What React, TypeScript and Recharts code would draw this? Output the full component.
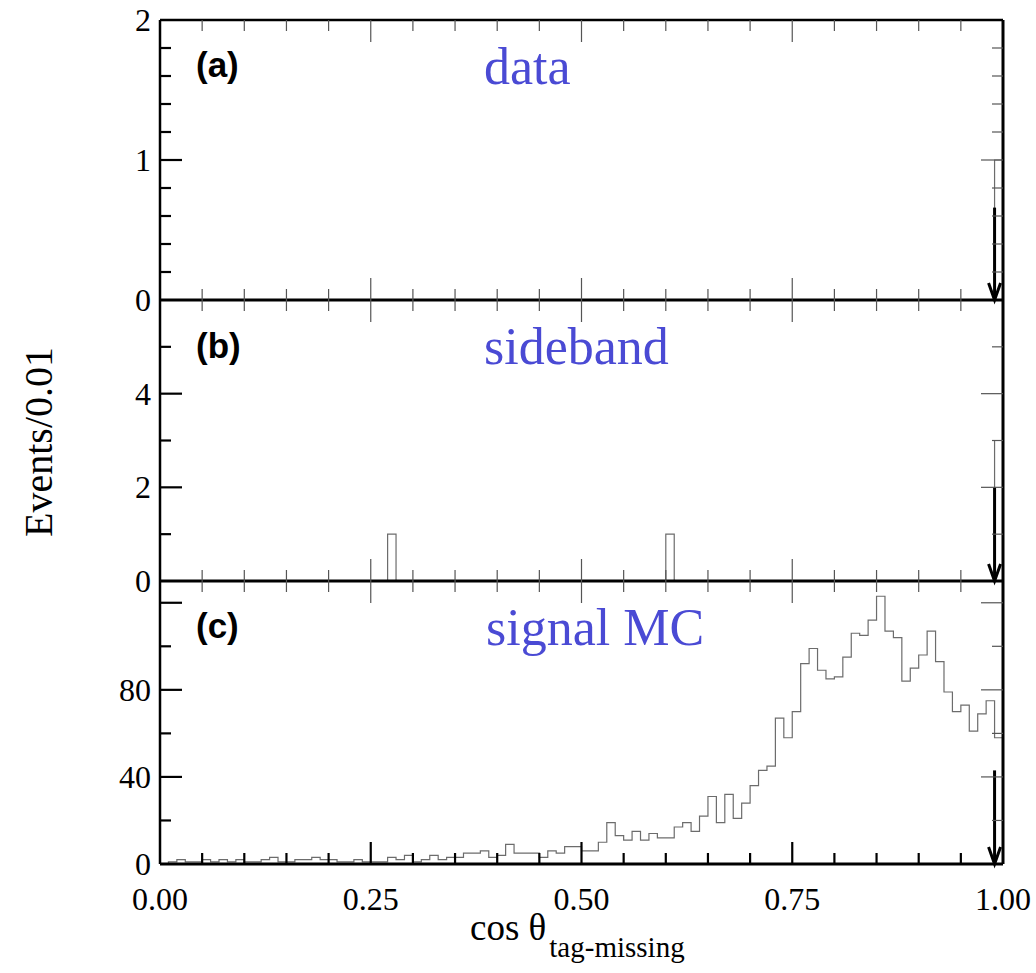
import React from 'react';
import { LineChart, Line, XAxis, YAxis, ReferenceLine } from 'recharts';

// ---------- data ----------
// histogram bins of width 0.01 on cos(theta) from 0.00 to 1.00 (100 bins)
const binEdges: number[] = Array.from({ length: 101 }, (_, i) => i / 100);

// (a) data
const dataCounts: number[] = [
  0, 0, 0, 0, 0, 0, 0, 0, 0, 0, 0, 0, 0, 0, 0, 0, 0, 0, 0, 0,
  0, 0, 0, 0, 0, 0, 0, 0, 0, 0, 0, 0, 0, 0, 0, 0, 0, 0, 0, 0,
  0, 0, 0, 0, 0, 0, 0, 0, 0, 0, 0, 0, 0, 0, 0, 0, 0, 0, 0, 0,
  0, 0, 0, 0, 0, 0, 0, 0, 0, 0, 0, 0, 0, 0, 0, 0, 0, 0, 0, 0,
  0, 0, 0, 0, 0, 0, 0, 0, 0, 0, 0, 0, 0, 0, 0, 0, 0, 0, 0, 1,
];

// (b) sideband
const sidebandCounts: number[] = [
  0, 0, 0, 0, 0, 0, 0, 0, 0, 0, 0, 0, 0, 0, 0, 0, 0, 0, 0, 0,
  0, 0, 0, 0, 0, 0, 0, 1, 0, 0, 0, 0, 0, 0, 0, 0, 0, 0, 0, 0,
  0, 0, 0, 0, 0, 0, 0, 0, 0, 0, 0, 0, 0, 0, 0, 0, 0, 0, 0, 0,
  1, 0, 0, 0, 0, 0, 0, 0, 0, 0, 0, 0, 0, 0, 0, 0, 0, 0, 0, 0,
  0, 0, 0, 0, 0, 0, 0, 0, 0, 0, 0, 0, 0, 0, 0, 0, 0, 0, 0, 3,
];

// (c) signal MC
const signalCounts: number[] = [
  0, 1, 2, 1, 1, 2, 1, 2, 1, 2, 1, 1, 2, 3, 1, 1, 2, 2, 3, 2,
  2, 1, 1, 2, 1, 1, 1, 3, 2, 4, 1, 2, 4, 2, 3, 3, 5, 5, 6, 3,
  4, 9, 5, 5, 5, 3, 6, 5, 8, 8, 6, 6, 10, 19, 13, 11, 15, 11, 14, 12,
  12, 17, 19, 15, 22, 31, 19, 32, 21, 28, 36, 43, 45, 67, 58, 70, 92, 99, 89, 85,
  86, 95, 106, 105, 112, 123, 107, 104, 84, 90, 96, 107, 93, 79, 70, 73, 61, 69, 75, 58,
];

// ---------- ticks ----------
const xTicks = [0, 0.05, 0.1, 0.15, 0.2, 0.25, 0.3, 0.35, 0.4, 0.45, 0.5, 0.55, 0.6, 0.65, 0.7, 0.75, 0.8, 0.85, 0.9, 0.95, 1];
const xMajorTicks = [0, 0.25, 0.5, 0.75, 1];
const xTickLabels = ['0.00', '0.25', '0.50', '0.75', '1.00'];

const yTicksA = [0, 0.2, 0.4, 0.6, 0.8, 1, 1.2, 1.4, 1.6, 1.8, 2];
const yMajorA = [0, 1, 2];
const yLabelsA = ['0', '1', '2'];

const yTicksB = [0, 1, 2, 3, 4, 5, 6];
const yMajorB = [0, 2, 4, 6];
const yLabeledB = [0, 2, 4];
const yLabelsB = ['0', '2', '4'];

const yTicksC = [0, 20, 40, 60, 80, 100, 120];
const yMajorC = [0, 40, 80, 120];
const yLabeledC = [0, 40, 80];
const yLabelsC = ['0', '40', '80'];

// cut arrow (at cos = 0.99), top of the arrow in each panel's units
const cutValue = 0.99;
const arrowTops = [0.66, 2, 43];

// ---------- table ----------
const rows = binEdges.map((x, i) => {
  const k = Math.min(i, 99);
  return { x, a: dataCounts[k], b: sidebandCounts[k], c: signalCounts[k] };
});

const SERIF = '"Liberation Serif", "Times New Roman", serif';
const SANS = '"Liberation Sans", Arial, sans-serif';
const BLUE = '#4a4ad4';
const HIST = '#6c6c6c';

const near = (a: number, b: number) => Math.abs(a - b) < 1e-6;
const inList = (v: number, list: number[]) => list.some((t) => near(t, v));

type Side = 'bottom' | 'top' | 'left' | 'right';

function makeTick(
  side: Side,
  majors: number[],
  lo: number,
  hi: number,
  color: string,
  sw: number,
  labeled?: number[],
  labels?: string[]
) {
  return (props: any) => {
    const { x, y, payload } = props;
    const v = payload.value as number;
    const major = inList(v, majors);
    const len = major ? 22 : 11;
    const edge = near(v, lo) || near(v, hi);
    let line: any = null;
    if (!edge) {
      if (side === 'bottom') line = <line x1={x} x2={x} y1={y} y2={y - len} stroke={color} strokeWidth={sw} />;
      if (side === 'top') line = <line x1={x} x2={x} y1={y} y2={y + len} stroke={color} strokeWidth={sw} />;
      if (side === 'left') line = <line x1={x} x2={x + len} y1={y} y2={y} stroke={color} strokeWidth={sw} />;
      if (side === 'right') line = <line x1={x} x2={x - len} y1={y} y2={y} stroke={color} strokeWidth={sw} />;
    }
    let label: any = null;
    if (labeled && labels) {
      const idx = labeled.findIndex((t) => near(t, v));
      if (idx >= 0) {
        if (side === 'bottom')
          label = (
            <text x={x} y={y + 46} textAnchor="middle" fontFamily={SERIF} fontSize={32} fill="#000">
              {labels[idx]}
            </text>
          );
        if (side === 'left')
          label = (
            <text x={x - 9} y={y + 11} textAnchor="end" fontFamily={SERIF} fontSize={32} fill="#000">
              {labels[idx]}
            </text>
          );
      }
    }
    return (
      <g>
        {line}
        {label}
      </g>
    );
  };
}

const ArrowShape = (p: any) => {
  const { x1, y1, x2, y2 } = p;
  const tipY = Math.max(y1, y2);
  const topY = Math.min(y1, y2);
  const x = x1;
  return (
    <g>
      <line x1={x} x2={x2} y1={topY} y2={tipY} stroke="#000" strokeWidth={3} />
      <polyline
        points={`${x - 6},${tipY - 17} ${x},${tipY} ${x + 6},${tipY - 17}`}
        fill="none"
        stroke="#000"
        strokeWidth={3}
      />
    </g>
  );
};

type PanelProps = {
  top: number;
  height: number;
  mTop: number;
  mBottom: number;
  yMax: number;
  yTicks: number[];
  yMajor: number[];
  yLabeled: number[];
  yLabels: string[];
  dataKey: string;
  arrowTop: number;
  bottomTickColor: string;
  bottomTickWidth: number;
  showXLabels: boolean;
  drawTopLine: boolean;
};

function Panel(p: PanelProps) {
  const bottomTick = makeTick(
    'bottom',
    xMajorTicks,
    0,
    1,
    p.bottomTickColor,
    p.bottomTickWidth,
    p.showXLabels ? xMajorTicks : undefined,
    p.showXLabels ? xTickLabels : undefined
  );
  const topTick = makeTick('top', xMajorTicks, 0, 1, '#555', 1.2);
  const leftTick = makeTick('left', p.yMajor, 0, p.yMax, '#000', 2.2, p.yLabeled, p.yLabels);
  const rightTick = makeTick('right', p.yMajor, 0, p.yMax, '#555', 1.2);
  return (
    <div style={{ position: 'absolute', left: 0, top: p.top, width: 1036, height: p.height, pointerEvents: 'none' }}>
      <LineChart
        width={1036}
        height={p.height}
        data={rows}
        margin={{ top: p.mTop - 1, right: 32, bottom: p.mBottom - 1, left: 159 }}
        style={{ overflow: 'visible' }}
      >
        <XAxis
          xAxisId="b"
          type="number"
          dataKey="x"
          domain={[0, 1]}
          ticks={xTicks}
          interval={0}
          height={1}
          tickSize={0}
          tickMargin={0}
          tickLine={false}
          axisLine={{ stroke: '#000', strokeWidth: 3 }}
          tick={bottomTick}
          allowDataOverflow
        />
        <XAxis
          xAxisId="t"
          orientation="top"
          type="number"
          dataKey="x"
          domain={[0, 1]}
          ticks={xTicks}
          interval={0}
          height={1}
          tickSize={0}
          tickMargin={0}
          tickLine={false}
          axisLine={p.drawTopLine ? { stroke: '#000', strokeWidth: 2.5 } : false}
          tick={topTick}
          allowDataOverflow
        />
        <YAxis
          yAxisId="l"
          type="number"
          domain={[0, p.yMax]}
          ticks={p.yTicks}
          interval={0}
          width={1}
          tickSize={0}
          tickMargin={0}
          tickLine={false}
          axisLine={{ stroke: '#000', strokeWidth: 2.5 }}
          tick={leftTick}
          allowDataOverflow
        />
        <YAxis
          yAxisId="r"
          orientation="right"
          type="number"
          domain={[0, p.yMax]}
          ticks={p.yTicks}
          interval={0}
          width={1}
          tickSize={0}
          tickMargin={0}
          tickLine={false}
          axisLine={{ stroke: '#000', strokeWidth: 3 }}
          tick={rightTick}
          allowDataOverflow
        />
        <Line
          xAxisId="b"
          yAxisId="l"
          type="stepAfter"
          dataKey={p.dataKey}
          stroke={HIST}
          strokeWidth={1.2}
          dot={false}
          activeDot={false}
          isAnimationActive={false}
        />
        <ReferenceLine
          xAxisId="b"
          yAxisId="l"
          segment={[
            { x: cutValue, y: p.arrowTop },
            { x: cutValue, y: 0 },
          ]}
          stroke="#000"
          strokeWidth={3}
          shape={ArrowShape}
        />
      </LineChart>
    </div>
  );
}

export default function App() {
  return (
    <div style={{ position: 'absolute', left: 0, top: 0, width: 1036, height: 973, background: '#fff' }}>
      <Panel
        top={0}
        height={325}
        mTop={20}
        mBottom={25}
        yMax={2}
        yTicks={yTicksA}
        yMajor={yMajorA}
        yLabeled={yMajorA}
        yLabels={yLabelsA}
        dataKey="a"
        arrowTop={arrowTops[0]}
        bottomTickColor="#555"
        bottomTickWidth={1.2}
        showXLabels={false}
        drawTopLine={true}
      />
      <Panel
        top={290}
        height={316}
        mTop={10}
        mBottom={25}
        yMax={6}
        yTicks={yTicksB}
        yMajor={yMajorB}
        yLabeled={yLabeledB}
        yLabels={yLabelsB}
        dataKey="b"
        arrowTop={arrowTops[1]}
        bottomTickColor="#555"
        bottomTickWidth={1.2}
        showXLabels={false}
        drawTopLine={false}
      />
      <Panel
        top={571}
        height={402}
        mTop={10}
        mBottom={109}
        yMax={130}
        yTicks={yTicksC}
        yMajor={yMajorC}
        yLabeled={yLabeledC}
        yLabels={yLabelsC}
        dataKey="c"
        arrowTop={arrowTops[2]}
        bottomTickColor="#000"
        bottomTickWidth={2.2}
        showXLabels={true}
        drawTopLine={false}
      />
      <svg
        width={1036}
        height={973}
        style={{ position: 'absolute', left: 0, top: 0, pointerEvents: 'none' }}
      >
        <text x={196} y={77} fontFamily={SANS} fontWeight="bold" fontSize={35} fill="#000">(a)</text>
        <text x={196} y={358} fontFamily={SANS} fontWeight="bold" fontSize={35} fill="#000">(b)</text>
        <text x={196} y={638} fontFamily={SANS} fontWeight="bold" fontSize={35} fill="#000">(c)</text>
        <text x={484} y={84} fontFamily={SERIF} fontSize={52} fill={BLUE}>data</text>
        <text x={484} y={364} fontFamily={SERIF} fontSize={52} fill={BLUE}>sideband</text>
        <text x={486} y={645} fontFamily={SERIF} fontSize={52} fill={BLUE}>signal MC</text>
        <text
          transform="translate(52,442) rotate(-90)"
          textAnchor="middle"
          fontFamily={SERIF}
          fontSize={40}
          fill="#000"
        >
          Events/0.01
        </text>
        <text x={470} y={940} fontFamily={SERIF} fontSize={37} fill="#000">
          cos θ
          <tspan fontSize={29} dy={17} dx={3}>tag-missing</tspan>
        </text>
      </svg>
    </div>
  );
}
